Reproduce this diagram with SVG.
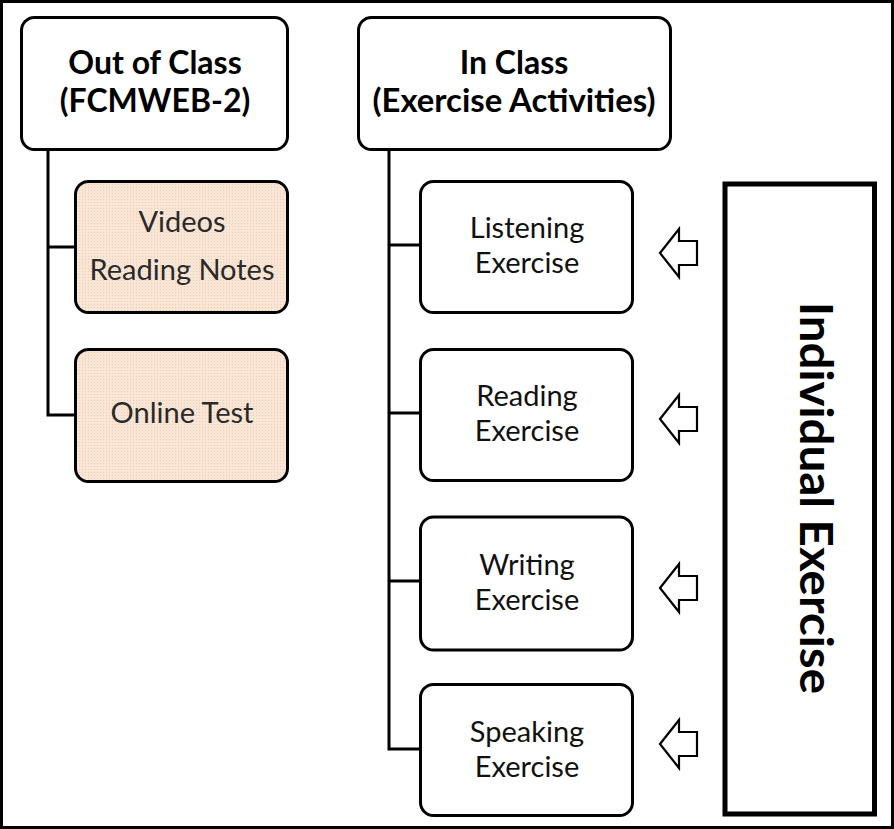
<svg xmlns="http://www.w3.org/2000/svg" width="894" height="829" viewBox="0 0 894 829">
<defs>
<pattern id="dots" width="3" height="3" patternUnits="userSpaceOnUse">
<rect width="3" height="3" fill="#fbe6d6"/>
<rect x="1" y="1" width="1" height="1" fill="#e8cdb9"/>
</pattern>
<polygon id="arrow" points="0,0 19,-24 19,-12 37,-12 37,12 19,12 19,24" fill="#fff" stroke="#000" stroke-width="2.2" stroke-linejoin="miter"/>
</defs>
<style>
.box{fill:#fff;stroke:#000;stroke-width:3}
.peach{fill:url(#dots);stroke:#000;stroke-width:3}
.head{font-family:Lato,"Open Sans",sans-serif;font-weight:bold;font-size:32px;fill:#000;text-anchor:middle}
.lbl{font-family:Lato,"Open Sans",sans-serif;font-size:29px;fill:#111;text-anchor:middle}
.plbl{font-family:Lato,"Open Sans",sans-serif;font-size:29px;fill:#2a2a2a;text-anchor:middle}
.conn{fill:none;stroke:#000;stroke-width:3}
</style>
<rect x="1.5" y="1.5" width="891" height="826" fill="#fff" stroke="#000" stroke-width="3"/>
<g id="connectors">
<path class="conn" d="M48,150 V415 H75 M48,247 H75"/>
<path class="conn" d="M389,150 V749 H420 M389,245 H420 M389,413 H420 M389,581 H420"/>
<use href="#arrow" x="660" y="253"/>
<use href="#arrow" x="660" y="419"/>
<use href="#arrow" x="660" y="588"/>
<use href="#arrow" x="660" y="744"/>
</g>
<g id="out-of-class">
<rect class="box" x="21.5" y="17.5" width="266" height="132" rx="13"/>
<text class="head" x="155" y="74">Out of Class</text>
<text class="head" x="155" y="112">(FCMWEB-2)</text>
</g>
<g id="in-class">
<rect class="box" x="358.5" y="17.5" width="312" height="132" rx="13"/>
<text class="head" x="514" y="74">In Class</text>
<text class="head" x="514" y="112" textLength="283" lengthAdjust="spacingAndGlyphs">(Exercise Activities)</text>
</g>
<g id="videos">
<rect class="peach" x="75.5" y="181.5" width="212" height="131" rx="13"/>
<text class="plbl" x="182" y="232">Videos</text>
<text class="plbl" x="182" y="280">Reading Notes</text>
</g>
<g id="online-test">
<rect class="peach" x="75.5" y="349.5" width="212" height="132" rx="13"/>
<text class="plbl" x="182" y="423">Online Test</text>
</g>
<g id="listening">
<rect class="box" x="420.5" y="181.5" width="212" height="131" rx="13"/>
<text class="lbl" x="527" y="238">Listening</text>
<text class="lbl" x="527" y="273">Exercise</text>
</g>
<g id="reading">
<rect class="box" x="420.5" y="349.5" width="212" height="131" rx="13"/>
<text class="lbl" x="527" y="406">Reading</text>
<text class="lbl" x="527" y="441">Exercise</text>
</g>
<g id="writing">
<rect class="box" x="420.5" y="517" width="212" height="133" rx="13"/>
<text class="lbl" x="527" y="575">Writing</text>
<text class="lbl" x="527" y="610">Exercise</text>
</g>
<g id="speaking">
<rect class="box" x="420.5" y="684.5" width="212" height="131" rx="13"/>
<text class="lbl" x="527" y="742">Speaking</text>
<text class="lbl" x="527" y="777">Exercise</text>
</g>
<g id="individual-exercise">
<rect x="725" y="184" width="149.5" height="630" fill="#fff" stroke="#000" stroke-width="5"/>
<text x="0" y="0" transform="translate(800,498) rotate(90)" font-family="Lato,'Open Sans',sans-serif" font-weight="bold" font-size="45" text-anchor="middle" textLength="392" lengthAdjust="spacingAndGlyphs">Individual Exercise</text>
</g>
</svg>
